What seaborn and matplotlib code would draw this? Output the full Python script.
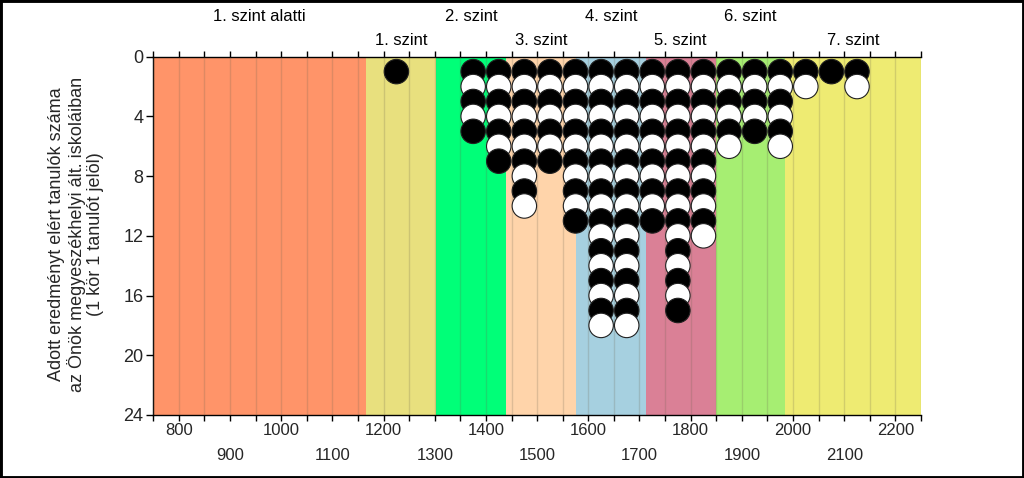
import numpy as np
import pandas as pd
import matplotlib
matplotlib.use("Agg")
import matplotlib.pyplot as plt
import matplotlib.transforms as mtransforms
from matplotlib.patches import Rectangle
import seaborn as sns

sns.set_theme(style="white")
plt.rcParams["font.family"] = ["Liberation Sans", "DejaVu Sans"]

# ---- data ----
score_bins = [1225, 1375, 1425, 1475, 1525, 1575, 1625, 1675, 1725,
              1775, 1825, 1875, 1925, 1975, 2025, 2075, 2125]
student_counts = [1, 5, 7, 10, 7, 11, 18, 18, 11, 17, 12, 6, 5, 6, 2, 1, 2]

level_edges = [750, 1166, 1302, 1439, 1576, 1712, 1849, 1985, 2250]
level_names = ["1. szint alatti", "1. szint", "2. szint", "3. szint",
               "4. szint", "5. szint", "6. szint", "7. szint"]
level_colors = ["#FF9469", "#E8E07E", "#00FF78", "#FFD4AA",
                "#A6D0E0", "#DA8096", "#A6EE72", "#EEEB72"]

x_major = [800, 1000, 1200, 1400, 1600, 1800, 2000, 2200]
x_odd_hundreds = [900, 1100, 1300, 1500, 1700, 1900, 2100]
y_ticks = [0, 4, 8, 12, 16, 20, 24]

ylabel_text = ("Adott eredményt elért tanulók száma\n"
               "az Önök megyeszékhelyi ált. iskoláiban\n"
               "(1 kör 1 tanulót jelöl)")

# one row per student circle
rows = []
for xb, n in zip(score_bins, student_counts):
    for k in range(1, n + 1):
        rows.append({"pont": xb, "sor": k, "szin": "fekete" if k % 2 == 1 else "feher"})
df = pd.DataFrame(rows)

fig = plt.figure(figsize=(10.24, 4.78), dpi=100)
ax = fig.add_axes([0.1497, 0.1318, 0.7497, 0.7496])

# level bands
for lo, hi, c in zip(level_edges[:-1], level_edges[1:], level_colors):
    ax.axvspan(lo, hi, color=c, lw=0, zorder=0)

sns.scatterplot(data=df, x="pont", y="sor", hue="szin",
                palette={"fekete": "black", "feher": "white"},
                s=310, edgecolor="#202020", linewidth=0.8,
                legend=False, ax=ax, zorder=3, clip_on=False)

ax.set_xlim(level_edges[0], level_edges[-1])
ax.set_ylim(24, 0)

# ticks
minor_pos = [v for v in range(level_edges[0], level_edges[-1] + 1, 50) if v not in x_major]
minor_labels = [str(v) if v in x_odd_hundreds else "" for v in minor_pos]
ax.set_xticks(x_major, labels=[str(v) for v in x_major])
ax.set_xticks(minor_pos, labels=minor_labels, minor=True)
ax.tick_params(axis="x", which="both", direction="out", length=4, width=1,
               color="black", top=True, bottom=True, labeltop=False,
               labelsize=12, pad=2)
ax.tick_params(axis="x", which="minor", pad=20)
ax.set_yticks(y_ticks)
ax.tick_params(axis="y", direction="out", length=5, width=1, color="black",
               left=True, labelsize=13, pad=2)

ax.grid(axis="x", which="both", color="#6b6450", alpha=0.22, lw=1, zorder=1)
ax.grid(axis="y", visible=False)
ax.set_axisbelow(False)
for coll in ax.collections:
    coll.set_zorder(3)

for side in ["left", "top", "bottom"]:
    ax.spines[side].set_visible(True)
    ax.spines[side].set_color("black")
    ax.spines[side].set_linewidth(1)
ax.spines["right"].set_visible(False)

ax.set_xlabel("")
ax.set_ylabel("")

# level names on top, alternating rows
trans = mtransforms.blended_transform_factory(ax.transData, ax.transAxes)
for i, name in enumerate(level_names):
    xc = (level_edges[i] + level_edges[i + 1]) / 2
    yy = 1.111 if i % 2 == 0 else 1.044
    ax.text(xc, yy, name, transform=trans, ha="center", va="center",
            fontsize=12, color="black")

fig.text(76 / 1024, 1 - 234 / 478, ylabel_text, rotation=90, ha="center",
         va="center", fontsize=13, multialignment="center", linespacing=1.08)

fig.patches.append(Rectangle((0, 0), 1, 1, transform=fig.transFigure,
                             fill=False, ec="black", lw=3.5, zorder=10))

fig.savefig("out.png", dpi=100, facecolor="white")
